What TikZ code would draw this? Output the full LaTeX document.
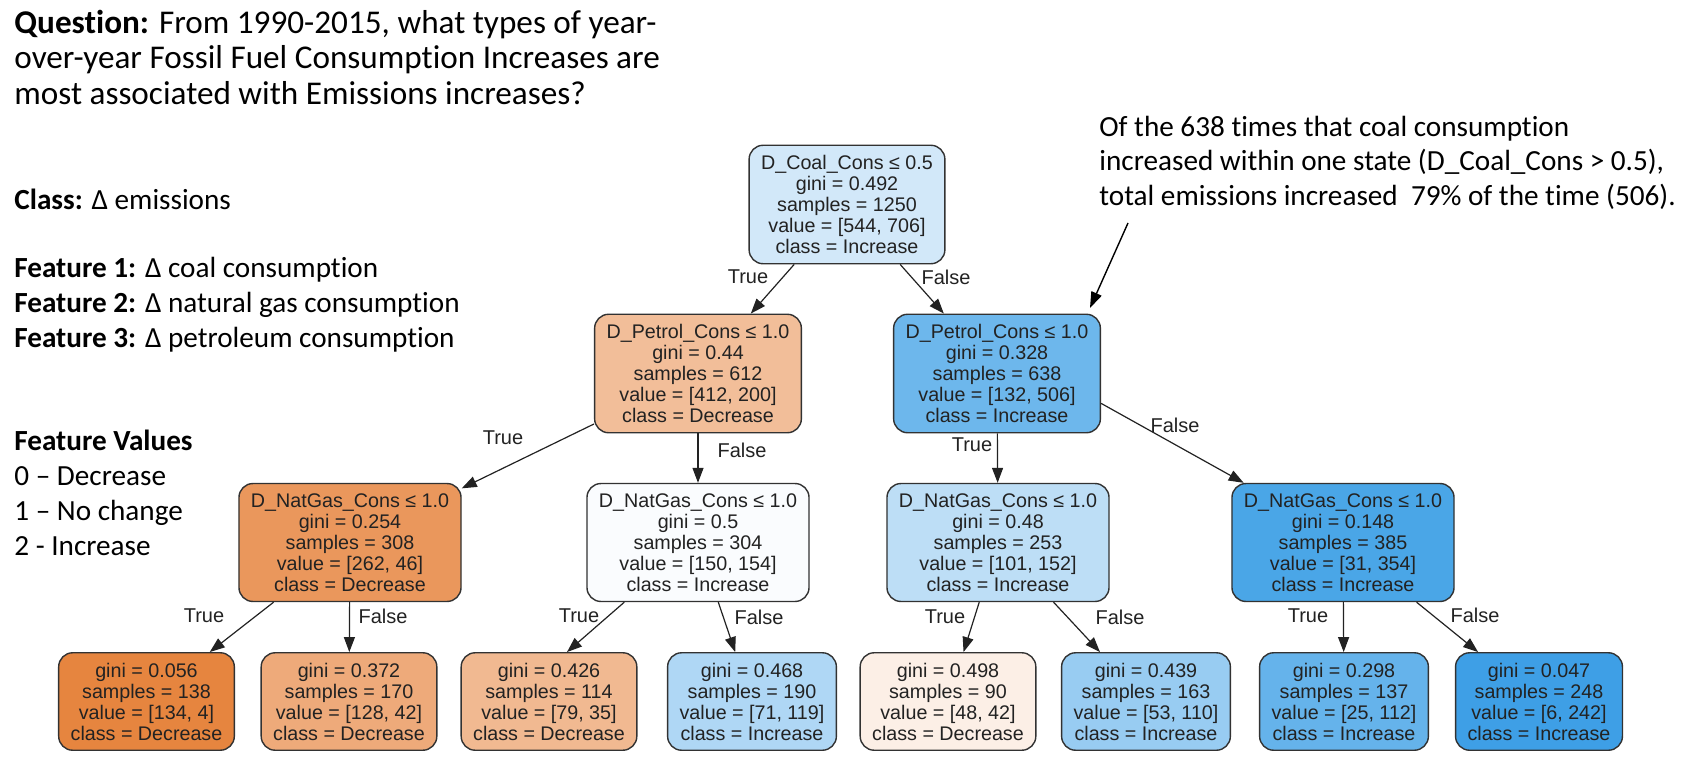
\documentclass[tikz,border=0pt]{standalone}
\usepackage{fontspec}
\setmainfont{Carlito}[Ligatures=NoCommon]
\newfontfamily\treefont{Liberation Sans}
\usepackage{tikz}
\usetikzlibrary{arrows.meta}

\definecolor{treetext}{RGB}{34,34,34}
\definecolor{boxline}{RGB}{50,50,50}
\definecolor{rootcol}{RGB}{210,232,249}
\definecolor{petLcol}{RGB}{242,190,153}
\definecolor{petRcol}{RGB}{109,183,236}
\definecolor{gasAcol}{RGB}{234,151,92}
\definecolor{gasBcol}{RGB}{250,252,254}
\definecolor{gasCcol}{RGB}{189,222,246}
\definecolor{gasDcol}{RGB}{74,166,231}
\definecolor{leafAcol}{RGB}{230,133,63}
\definecolor{leafBcol}{RGB}{238,170,122}
\definecolor{leafCcol}{RGB}{241,185,145}
\definecolor{leafDcol}{RGB}{175,215,245}
\definecolor{leafEcol}{RGB}{252,239,230}
\definecolor{leafFcol}{RGB}{152,204,242}
\definecolor{leafGcol}{RGB}{101,179,235}
\definecolor{leafHcol}{RGB}{62,159,230}

\begin{document}
\begin{tikzpicture}[x=0.5pt, y=-0.5pt,
    split/.style={draw=boxline, line width=0.7pt, rounded corners=7pt, align=center,
      inner xsep=6pt, inner ysep=5pt, text=treetext,
      font=\treefont\fontsize{9.85}{10.5}\selectfont},
    edge/.style={-{Triangle[length=7.5pt,width=5.5pt]}, line width=0.6pt, draw=treetext},
    lab/.style={text=treetext, font=\treefont\fontsize{10}{12}\selectfont},
    note/.style={align=left, anchor=west, inner sep=0pt, font=\fontsize{14.6}{17.5}\selectfont}]

  \useasboundingbox (0,0) rectangle (1688,776);

        % left side texts
        \node[note, font=\fontsize{16.6}{17.75}\selectfont] (question) at (14,57) {\textbf{Question:} From 1990-2015, what types of year-\\over-year Fossil Fuel Consumption Increases are\\most associated with Emissions increases?};

        \node[note] (classtxt) at (14,199) {\textbf{Class:} Δ emissions};

        \node[note] (features) at (14,304.5) {\textbf{Feature 1:} Δ coal consumption\\\textbf{Feature 2:} Δ natural gas consumption\\\textbf{Feature 3:} Δ petroleum consumption};

        \node[note] (values) at (14,492.5) {\textbf{Feature Values}\\0 – Decrease\\1 – No change\\2 - Increase};

        \node[note, font=\fontsize{14.6}{17.25}\selectfont] (remark) at (1099,162.5) {Of the 638 times that coal consumption\\increased within one state (D\_Coal\_Cons > 0.5),\\total emissions increased\ \ 79\% of the time (506).};

        % tree
      	\node[split, fill=rootcol] (root) at (847,204.5) {D\_Coal\_Cons ≤ 0.5\\gini = 0.492\\samples = 1250\\value = [544, 706]\\class = Increase};

      	\node[split, fill=petLcol] (petL) at (698,373.5) {D\_Petrol\_Cons ≤ 1.0\\gini = 0.44\\samples = 612\\value = [412, 200]\\class = Decrease};
      	\node[split, fill=petRcol] (petR) at (997,373.5) {D\_Petrol\_Cons ≤ 1.0\\gini = 0.328\\samples = 638\\value = [132, 506]\\class = Increase};

      	\node[split, fill=gasAcol] (gas1) at (350,542.5) {D\_NatGas\_Cons ≤ 1.0\\gini = 0.254\\samples = 308\\value = [262, 46]\\class = Decrease};
      	\node[split, fill=gasBcol] (gas2) at (698,542.5) {D\_NatGas\_Cons ≤ 1.0\\gini = 0.5\\samples = 304\\value = [150, 154]\\class = Increase};
      	\node[split, fill=gasCcol] (gas3) at (998,542.5) {D\_NatGas\_Cons ≤ 1.0\\gini = 0.48\\samples = 253\\value = [101, 152]\\class = Increase};
      	\node[split, fill=gasDcol] (gas4) at (1343,542.5) {D\_NatGas\_Cons ≤ 1.0\\gini = 0.148\\samples = 385\\value = [31, 354]\\class = Increase};

      	\node[split, fill=leafAcol] (leaf1) at (146.5,701.5) {gini = 0.056\\samples = 138\\value = [134, 4]\\class = Decrease};
      	\node[split, fill=leafBcol] (leaf2) at (349,701.5) {gini = 0.372\\samples = 170\\value = [128, 42]\\class = Decrease};
      	\node[split, fill=leafCcol] (leaf3) at (549,701.5) {gini = 0.426\\samples = 114\\value = [79, 35]\\class = Decrease};
      	\node[split, fill=leafDcol] (leaf4) at (752,701.5) {gini = 0.468\\samples = 190\\value = [71, 119]\\class = Increase};
      	\node[split, fill=leafEcol] (leaf5) at (948,701.5) {gini = 0.498\\samples = 90\\value = [48, 42]\\class = Decrease};
      	\node[split, fill=leafFcol] (leaf6) at (1146,701.5) {gini = 0.439\\samples = 163\\value = [53, 110]\\class = Increase};
      	\node[split, fill=leafGcol] (leaf7) at (1344,701.5) {gini = 0.298\\samples = 137\\value = [25, 112]\\class = Increase};
      	\node[split, fill=leafHcol] (leaf8) at (1539,701.5) {gini = 0.047\\samples = 248\\value = [6, 242]\\class = Increase};

	\draw[edge] (root) -- (petL);
	\draw[edge] (root) -- (petR);
	\draw[edge] (petL) -- (gas1);
	\draw[edge] (petL) -- (gas2);
	\draw[edge] (petR) -- (gas3);
	\draw[edge] (petR.-16) -- (gas4.149);
	\draw[edge] (gas1) -- (leaf1);
	\draw[edge] (gas1) -- (leaf2);
	\draw[edge] (gas2.219) -- (leaf3.70);
	\draw[edge] (gas2) -- (leaf4);
	\draw[edge] (gas3) -- (leaf5);
	\draw[edge] (gas3) -- (leaf6);
	\draw[edge] (gas4) -- (leaf7);
	\draw[edge] (gas4) -- (leaf8);

	% edge labels
	\node[lab] (t0) at (748,277) {True};
	\node[lab] (f0) at (946,277) {False};
	\node[lab] (t1) at (503,438) {True};
	\node[lab] (f1) at (742,450) {False};
	\node[lab] (t2) at (972,445) {True};
	\node[lab] (f2) at (1175,425) {False};
	\node[lab] (t3) at (204,616) {True};
	\node[lab] (f3) at (383,616) {False};
	\node[lab] (t4) at (579,616) {True};
	\node[lab] (f4) at (759,617) {False};
	\node[lab] (t5) at (945,617) {True};
	\node[lab] (f5) at (1120,617) {False};
	\node[lab] (t6) at (1308,616) {True};
	\node[lab] (f6) at (1475,615) {False};

	% pointer from the remark
	\coordinate (remarkTail) at (1128,223);
	\coordinate (remarkHead) at (1090,308);
	\draw[-{Triangle[length=8pt,width=5.5pt]}, line width=0.7pt] (remarkTail) -- (remarkHead);

\end{tikzpicture}
\end{document}
